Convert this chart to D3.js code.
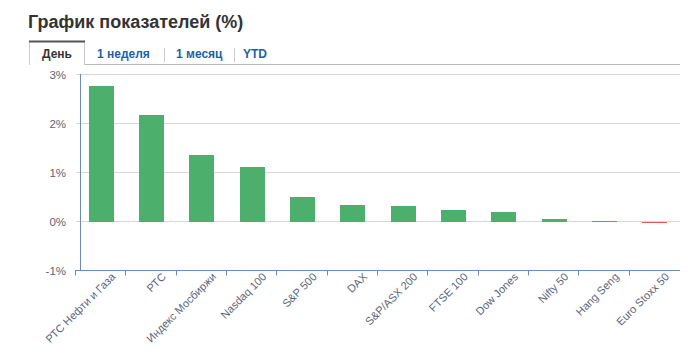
<!DOCTYPE html>
<html>
<head>
<meta charset="utf-8">
<script src="https://cdn.jsdelivr.net/npm/d3@7"></script>
<style>
html,body{margin:0;padding:0;background:#fff;}
svg{display:block;font-family:"Liberation Sans",Arial,sans-serif;}
</style>
</head>
<body>
<svg id="chart" width="698" height="357"></svg>
<script>
const title = "График показателей (%)";
const tabs = ["День", "1 неделя", "1 месяц", "YTD"];
const categories = ["РТС Нефти и Газа","РТС","Индекс Мосбиржи","Nasdaq 100","S&P 500","DAX","S&P/ASX 200","FTSE 100","Dow Jones","Nifty 50","Hang Seng","Euro Stoxx 50"];
const values = [2.77, 2.18, 1.36, 1.12, 0.50, 0.34, 0.32, 0.24, 0.20, 0.055, 0.02, -0.03];
const yTicks = [-1, 0, 1, 2, 3];

const svg = d3.select("#chart");

// Title
svg.append("text").attr("x", 28).attr("y", 27.5)
  .attr("font-size", 18).attr("font-weight", "bold").attr("fill", "#333")
  .text(title);

// Tabs
const tabG = svg.append("g");
tabG.append("line").attr("x1", 84).attr("x2", 680).attr("y1", 64.5).attr("y2", 64.5).attr("stroke", "#bbb");
tabG.append("path").attr("d", "M29.5,65 V41.5 H84.5 V65").attr("fill", "none").attr("stroke", "#ccc");
tabG.append("line").attr("x1", 29).attr("x2", 85).attr("y1", 41.5).attr("y2", 41.5).attr("stroke", "#555").attr("stroke-width", 2);
const tabX = [42, 97, 176, 243];
tabs.forEach((t, i) => {
  tabG.append("text").attr("x", tabX[i]).attr("y", 57.5)
    .attr("font-size", 12).attr("font-weight", "bold")
    .attr("fill", i === 0 ? "#333" : "#1f5fa8").text(t);
});
[164.5, 234.5].forEach(x => tabG.append("line").attr("x1", x).attr("x2", x).attr("y1", 48).attr("y2", 62).attr("stroke", "#ccc"));

// Scales
const x = d3.scaleBand().domain(categories).range([76, 680]).paddingInner(0.5).paddingOuter(0.25);
const y = d3.scaleLinear().domain([-1, 3]).range([270.5, 74.5]);

// Gridlines
svg.append("g").selectAll("line").data(yTicks).join("line")
  .attr("x1", 76).attr("x2", 680)
  .attr("y1", d => Math.floor(y(d)) + 0.5).attr("y2", d => Math.floor(y(d)) + 0.5)
  .attr("stroke", "#d8d8d8");

// Y labels
svg.append("g").selectAll("text").data(yTicks).join("text")
  .attr("x", 66).attr("y", d => Math.floor(y(d)) + 5)
  .attr("text-anchor", "end").attr("font-size", 11.5).attr("fill", "#5b6578")
  .text(d => d + "%");

// Bars
const zeroPx = Math.round(y(0) + 0.5);
svg.append("g").selectAll("rect").data(values).join("rect")
  .attr("x", (d, i) => Math.round(x(categories[i])))
  .attr("width", Math.round(x.bandwidth()))
  .attr("y", d => d >= 0 ? Math.min(Math.round(y(d)), zeroPx - 1) : zeroPx)
  .attr("height", d => d >= 0 ? Math.max(1, zeroPx - Math.round(y(d))) : Math.max(1, Math.round(y(d)) - zeroPx))
  .attr("fill", d => d >= 0 ? "#4caf6c" : "#e05858");

// Y axis line
svg.append("line").attr("x1", 80.5).attr("x2", 80.5).attr("y1", 74).attr("y2", 271)
  .attr("stroke", "#6a8cb8");

// X axis line + ticks
const axisY = 270.5;
svg.append("line").attr("x1", 75).attr("x2", 680).attr("y1", axisY).attr("y2", axisY).attr("stroke", "#6a8cb8");
svg.append("g").selectAll("line").data(d3.range(categories.length)).join("line")
  .attr("x1", i => Math.round(76 + i * (604 / categories.length)) - 0.5)
  .attr("x2", i => Math.round(76 + i * (604 / categories.length)) - 0.5)
  .attr("y1", axisY).attr("y2", axisY + 5).attr("stroke", "#6a8cb8");

// X labels
svg.append("g").selectAll("text").data(categories).join("text")
  .attr("transform", d => `translate(${x(d) + x.bandwidth() / 2 + 15},${axisY + 7}) rotate(-45)`)
  .attr("text-anchor", "end").attr("font-size", 11).attr("fill", "#5b6578")
  .text(d => d);
</script>
</body>
</html>
